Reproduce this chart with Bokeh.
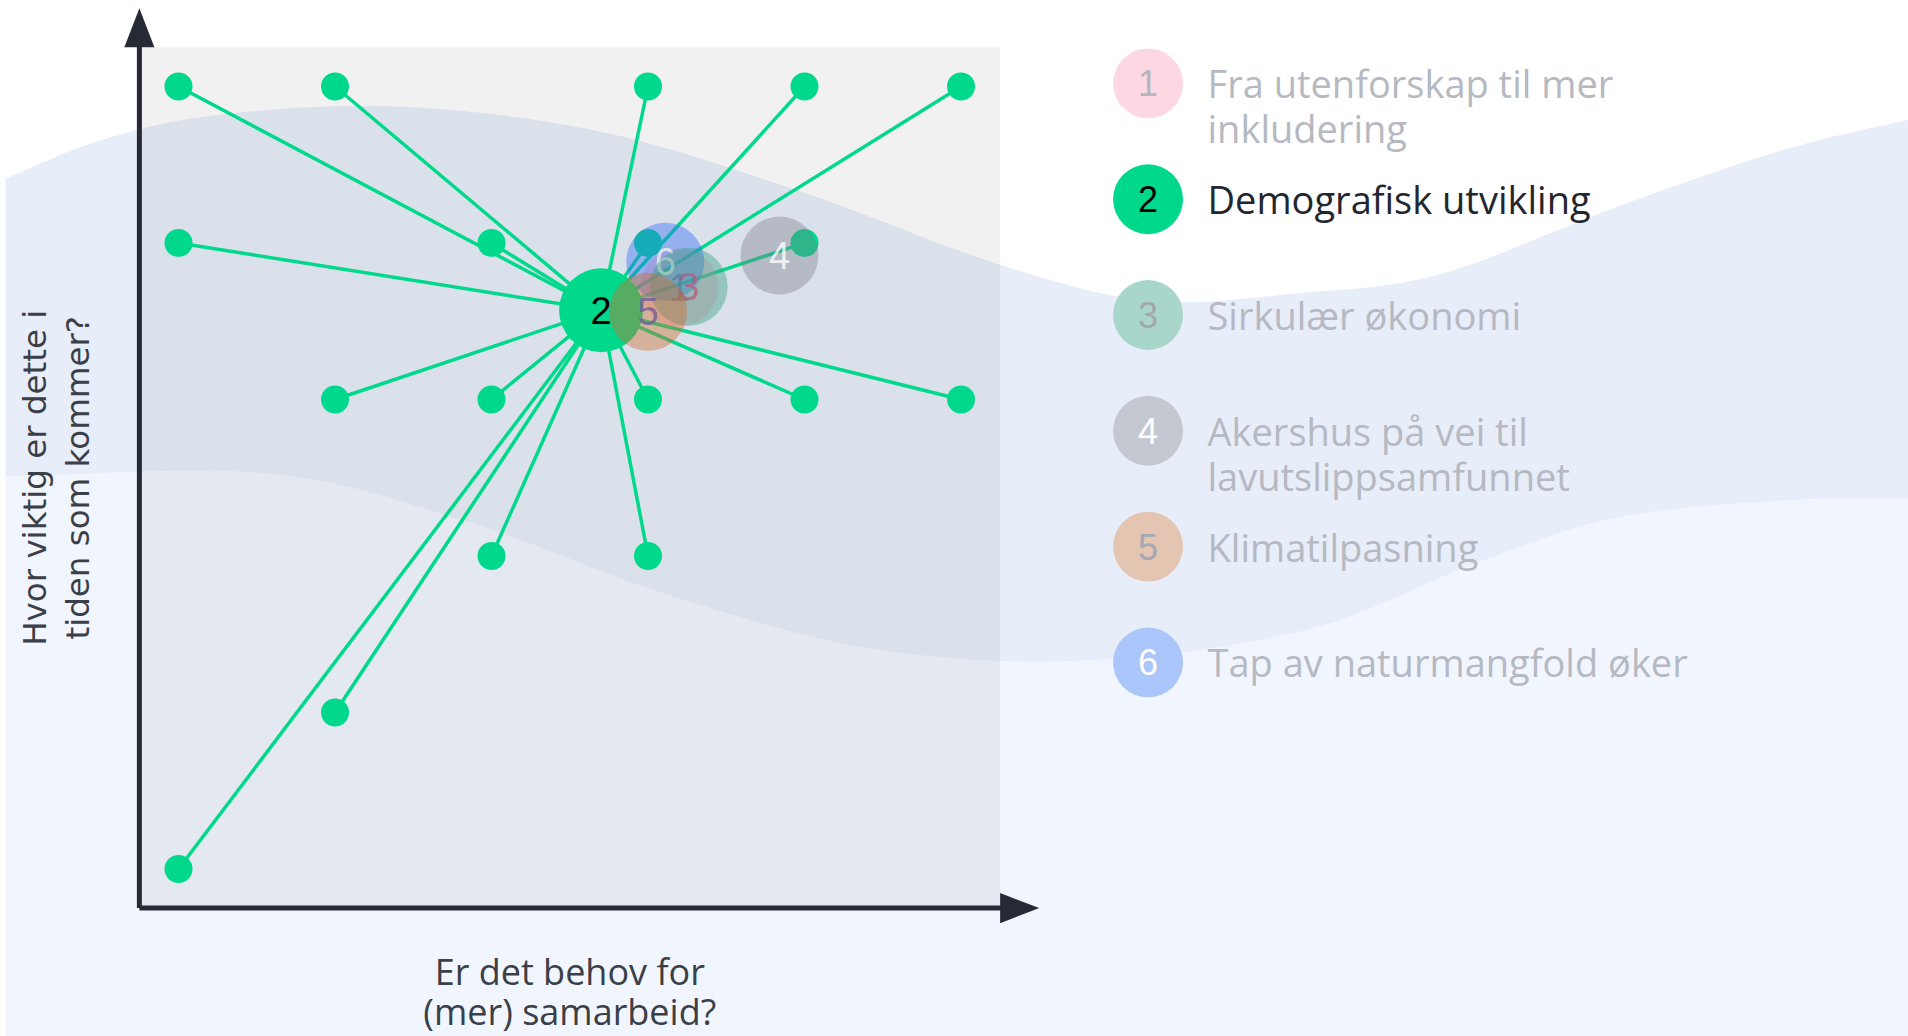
import numpy as np
from bokeh.plotting import figure
from bokeh.models import Range1d
from bokeh.core.properties import value
from bokeh.embed import file_html
from bokeh.resources import INLINE

# ---------------- data ----------------
# individual answers for the selected topic (x = need for cooperation, y = importance)
point_x = [1, 2, 4, 5, 6, 1, 3, 4, 5, 2, 3, 4, 5, 6, 3, 4, 2, 1]
point_y = [6, 6, 6, 6, 6, 5, 5, 5, 5, 4, 4, 4, 4, 4, 3, 3, 2, 1]

topic_ids = ["1", "2", "3", "4", "5", "6"]
topic_names = [
    "Fra utenforskap til mer\ninkludering",
    "Demografisk utvikling",
    "Sirkulær økonomi",
    "Akershus på vei til\nlavutslippsamfunnet",
    "Klimatilpasning",
    "Tap av naturmangfold øker",
]
# average position of each topic
topic_x = [4.20, 3.70, 4.26, 4.84, 4.00, 4.11]
topic_y = [4.716, 4.57, 4.72, 4.92, 4.56, 4.88]
selected_topic = "2"

x_label_lines = ["Er det behov for", "(mer) samarbeid?"]
y_label_lines = ["Hvor viktig er dette i", "tiden som kommer?"]

# ---------------- styling ----------------
topic_colors = ["#FA98B4", "#00D98B", "#37A082", "#787C8A", "#CD6E2A", "#326EF5"]
topic_alpha = [0.4, 1.0, 0.42, 0.38, 0.42, 0.42]
topic_label_colors = ["#B0607E", "#000000", "#B0607E", "#FFFFFF", "#6E5C98", "#F0F4E8"]
legend_fill = ["#FDD7E2", "#00D98B", "#A9D6CA", "#C5C8D1", "#E3C5B2", "#AAC6FA"]
legend_num_color = ["#B4B6BD", "#000000", "#A3A8B0", "#FFFFFF", "#A5A9B3", "#FFFFFF"]
GREEN = "#00D98B"
AXIS_COLOR = "#262A35"

# decorative background waves (data units)
wave_top_x = [-0.2, 0.50, 1.27, 2.42, 3.70, 4.97, 6.25, 7.21, 8.17, 9.06, 10.19, 11.24, 12.1]
wave_top_y = [5.37, 5.655, 5.82, 5.87, 5.71, 5.33, 4.86, 4.63, 4.68, 4.80, 5.23, 5.59, 5.80]
wave_bot_x = [-0.2, 1.58, 2.86, 4.14, 5.43, 6.76, 8.19, 9.33, 10.19, 11.24, 12.1]
wave_bot_y = [3.508, 3.527, 3.214, 2.748, 2.409, 2.332, 2.524, 2.971, 3.246, 3.355, 3.367]

AX_MIN, AX_MAX, ARROW_TIP = 0.75, 6.25, 6.5
X0, X1 = -0.1374, 12.054
Y0, Y1 = -0.0703, 6.5495


def smooth(xs, ys, n=40):
    xs = np.asarray(xs, float)
    ys = np.asarray(ys, float)
    px = np.concatenate([[2 * xs[0] - xs[1]], xs, [2 * xs[-1] - xs[-2]]])
    py = np.concatenate([[2 * ys[0] - ys[1]], ys, [2 * ys[-1] - ys[-2]]])
    ox, oy = [], []
    t = np.linspace(0, 1, n, endpoint=False)
    for i in range(1, len(px) - 2):
        for arr, out in ((px, ox), (py, oy)):
            p0, p1, p2, p3 = arr[i - 1], arr[i], arr[i + 1], arr[i + 2]
            out.extend(0.5 * ((2 * p1) + (-p0 + p2) * t + (2 * p0 - 5 * p1 + 4 * p2 - p3) * t ** 2
                              + (-p0 + 3 * p1 - 3 * p2 + p3) * t ** 3))
    ox.append(xs[-1])
    oy.append(ys[-1])
    return np.array(ox), np.array(oy)


W, H = 1908, 1036
p = figure(width=W, height=H, output_backend="svg", toolbar_location=None,
           x_range=Range1d(X0, X1), y_range=Range1d(Y0, Y1),
           min_border=0, min_border_left=0, min_border_right=0,
           min_border_top=0, min_border_bottom=0)
p.xaxis.visible = False
p.yaxis.visible = False
p.xgrid.visible = False
p.ygrid.visible = False
p.outline_line_color = None
p.background_fill_color = "#F1F5FE"
p.border_fill_color = "#F1F5FE"

# background
tx, ty = smooth(wave_top_x, wave_top_y)
bx, by = smooth(wave_bot_x, wave_bot_y)
p.patch(np.concatenate([tx, [tx[-1], tx[0]]]), np.concatenate([ty, [7.0, 7.0]]),
        fill_color="#FFFFFF", line_color=None)
p.patch(np.concatenate([tx, bx[::-1]]), np.concatenate([ty, by[::-1]]),
        fill_color="#E7EDF9", line_color=None)
# thin white strip along the left edge
p.quad(left=[X0 - 0.1], right=[X0 + 5 / 156.5], bottom=[Y0 - 0.1], top=[Y1 + 0.1],
       fill_color="#FFFFFF", line_color=None)

# plot area
p.quad(left=[AX_MIN], right=[AX_MAX], bottom=[AX_MIN], top=[AX_MAX],
       fill_color="#808080", fill_alpha=0.11, line_color=None)

# lines from answers to the topic average
sel = topic_ids.index(selected_topic)
cx, cy = topic_x[sel], topic_y[sel]
p.segment(x0=point_x, y0=point_y, x1=[cx] * len(point_x), y1=[cy] * len(point_y),
          line_color=GREEN, line_width=3.5)
p.scatter(point_x, point_y, size=28, fill_color=GREEN, line_color=None)

# topic bubbles
order = [0, 5, 2, 3, 1, 4]
for i in order:
    p.scatter([topic_x[i]], [topic_y[i]], size=84 if i == sel else 78,
              fill_color=topic_colors[i], fill_alpha=topic_alpha[i], line_color=None)
    p.text([topic_x[i]], [topic_y[i]], text=[topic_ids[i]], text_align="center",
           text_baseline="middle", text_font=value("Liberation Sans"),
           text_font_size=value("38px"), text_color=topic_label_colors[i],
           text_alpha=1.0 if i == sel else 0.8)

# axes with arrow heads
p.segment(x0=[AX_MIN, AX_MIN], y0=[AX_MIN, AX_MIN], x1=[AX_MIN, AX_MAX + 0.05],
          y1=[AX_MAX + 0.05, AX_MIN], line_color=AXIS_COLOR, line_width=5)
hw = 0.096
p.patches(xs=[[AX_MIN - hw, AX_MIN + hw, AX_MIN], [AX_MAX, AX_MAX, ARROW_TIP]],
          ys=[[AX_MAX, AX_MAX, ARROW_TIP], [AX_MIN - hw, AX_MIN + hw, AX_MIN]],
          fill_color=AXIS_COLOR, line_color=None)

# axis titles
p.text([3.5, 3.5], [0.345, 0.092], text=x_label_lines, text_align="center",
       text_baseline="middle", text_font=value("Open Sans"),
       text_font_size=value("36px"), text_color="#3B3F48")
p.text([0.08, 0.355], [3.5, 3.5], text=y_label_lines, angle=np.pi / 2,
       text_align="center", text_baseline="middle", text_font=value("DejaVu Sans"),
       text_font_size=value("32.5px"), text_color="#3B3F48")

# legend
LEG_X, LEG_TX, LEG_Y0, LEG_DY, LINE_H = 7.195, 7.575, 6.02, 0.740, 45
for i in range(len(topic_ids)):
    ly = LEG_Y0 - i * LEG_DY
    p.scatter([LEG_X], [ly], size=70, fill_color=legend_fill[i], line_color=None)
    p.text([LEG_X], [ly], text=[topic_ids[i]], text_align="center", text_baseline="middle",
           text_font=value("Liberation Sans"), text_font_size=value("36px"),
           text_color=legend_num_color[i])
    for j, line in enumerate(topic_names[i].split("\n")):
        p.text([LEG_TX], [ly], text=[line], y_offset=j * LINE_H, text_align="left",
               text_baseline="middle", text_font=value("Open Sans"),
               text_font_size=value("38px"),
               text_color="#23262F" if i == sel else "#B6B9C1")

open("out.html", "w").write(file_html(p, INLINE))
